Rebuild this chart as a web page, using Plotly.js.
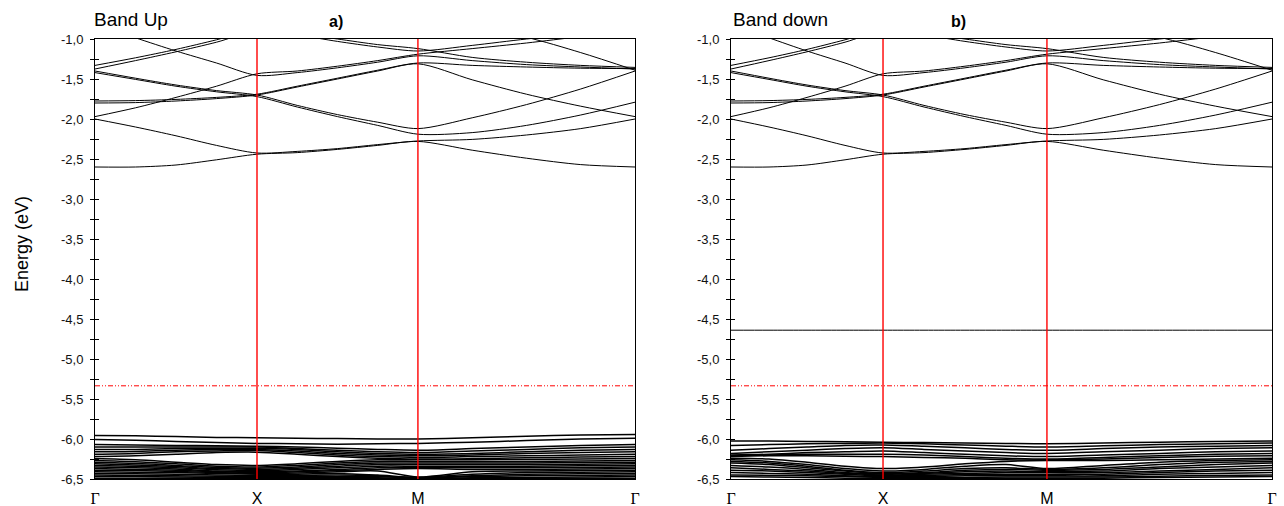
<!DOCTYPE html>
<html><head><meta charset="utf-8">
<script src="https://cdn.plot.ly/plotly-3.0.1.min.js"></script>
<style>html,body{margin:0;padding:0;background:#fff}#chart{width:1284px;height:506px}</style>
</head><body><div id="chart"></div>
<script>
// k sample points along the path in segment units (Γ=0, X=1, M=2, Γ=3)
const kSeg = [0,0.25,0.5,0.75,1,1.25,1.5,1.75,2,2.25,2.5,2.75,3];
const kLabels = ['Γ','X','M','Γ'];
// normalised positions of the high-symmetry points on each panel
const kPosA = [0, 0.300, 0.598, 1];
const kPosB = [0, 0.281, 0.584, 1];

// Upper (conduction) bands, eV – same in both panels
const up01 = [-2.60,-2.60,-2.575,-2.51,-2.44,-2.42,-2.38,-2.33,-2.28,-2.39,-2.49,-2.57,-2.60];
const up02 = [-2.00,-2.10,-2.21,-2.33,-2.425,-2.405,-2.37,-2.32,-2.275,-2.255,-2.20,-2.12,-2.00];
const up03 = [-1.97,-1.86,-1.73,-1.59,-1.435,-1.40,-1.34,-1.27,-1.19,-1.12,-1.05,-0.97,-0.90];
const up04 = [-1.80,-1.795,-1.775,-1.745,-1.70,-1.60,-1.50,-1.40,-1.31,-1.51,-1.69,-1.84,-1.97];
const up05 = [-1.775,-1.77,-1.755,-1.73,-1.69,-1.59,-1.49,-1.39,-1.30,-1.33,-1.35,-1.365,-1.37];
const up06 = [-1.40,-1.49,-1.575,-1.645,-1.70,-1.83,-1.945,-2.04,-2.12,-1.985,-1.82,-1.625,-1.40];
const up07 = [-1.42,-1.505,-1.59,-1.66,-1.72,-1.85,-1.97,-2.08,-2.19,-2.17,-2.08,-1.95,-1.79];
const up08 = [-1.33,-1.235,-1.13,-1.01,-0.88,-0.93,-1.00,-1.07,-1.12,-1.23,-1.29,-1.33,-1.355];
const up09 = [-1.375,-1.27,-1.16,-1.04,-0.90,-0.95,-1.03,-1.10,-1.15,-1.08,-1.00,-0.93,-0.86];
const up10 = [-0.81,-0.985,-1.15,-1.30,-1.455,-1.42,-1.36,-1.29,-1.21,-1.27,-1.32,-1.35,-1.375];
const up11 = [-0.60,-0.65,-0.70,-0.75,-0.78,-0.79,-0.80,-0.80,-0.80,-0.88,-0.98,-1.17,-1.39];

// Lower (valence) bands, panel a
const la01 = [-5.955,-5.96,-5.97,-5.98,-5.985,-5.99,-5.995,-6.00,-6.00,-5.985,-5.965,-5.95,-5.945];
const la02 = [-6.005,-6.015,-6.03,-6.045,-6.055,-6.06,-6.065,-6.06,-6.055,-6.04,-6.02,-6.00,-5.99];
const la03 = [-6.07,-6.075,-6.08,-6.085,-6.09,-6.10,-6.115,-6.13,-6.14,-6.12,-6.10,-6.08,-6.07];
const la04 = [-6.10,-6.10,-6.10,-6.10,-6.10,-6.12,-6.14,-6.16,-6.17,-6.15,-6.13,-6.11,-6.10];
const la05 = [-6.13,-6.13,-6.12,-6.12,-6.115,-6.13,-6.16,-6.18,-6.19,-6.18,-6.16,-6.14,-6.13];
const la06 = [-6.16,-6.155,-6.14,-6.13,-6.13,-6.15,-6.18,-6.20,-6.21,-6.20,-6.18,-6.17,-6.16];
const la07 = [-6.19,-6.18,-6.16,-6.15,-6.145,-6.17,-6.20,-6.22,-6.23,-6.22,-6.21,-6.20,-6.19];
const la08 = [-6.22,-6.21,-6.19,-6.17,-6.165,-6.19,-6.22,-6.24,-6.25,-6.245,-6.235,-6.225,-6.22];
const la09 = [-6.245,-6.26,-6.29,-6.32,-6.33,-6.31,-6.28,-6.26,-6.26,-6.26,-6.255,-6.25,-6.245];
const la10 = [-6.27,-6.285,-6.31,-6.34,-6.35,-6.33,-6.30,-6.28,-6.28,-6.28,-6.28,-6.275,-6.27];
const la11 = [-6.29,-6.305,-6.33,-6.355,-6.365,-6.35,-6.32,-6.30,-6.30,-6.30,-6.30,-6.295,-6.29];
const la12 = [-6.31,-6.325,-6.345,-6.37,-6.38,-6.365,-6.34,-6.32,-6.32,-6.32,-6.32,-6.315,-6.31];
const la13 = [-6.33,-6.34,-6.36,-6.385,-6.395,-6.38,-6.36,-6.34,-6.34,-6.34,-6.34,-6.335,-6.33];
const la14 = [-6.35,-6.36,-6.375,-6.40,-6.41,-6.40,-6.38,-6.36,-6.355,-6.36,-6.36,-6.355,-6.35];
const la15 = [-6.37,-6.38,-6.39,-6.41,-6.42,-6.41,-6.395,-6.38,-6.37,-6.38,-6.38,-6.375,-6.37];
const la16 = [-6.39,-6.395,-6.405,-6.42,-6.43,-6.425,-6.41,-6.40,-6.475,-6.41,-6.40,-6.395,-6.39];
const la17 = [-6.41,-6.415,-6.42,-6.43,-6.44,-6.44,-6.43,-6.45,-6.48,-6.44,-6.42,-6.415,-6.41];
const la18 = [-6.43,-6.435,-6.44,-6.45,-6.455,-6.455,-6.45,-6.46,-6.485,-6.46,-6.44,-6.435,-6.43];
const la19 = [-6.45,-6.455,-6.46,-6.465,-6.47,-6.47,-6.47,-6.47,-6.49,-6.47,-6.46,-6.455,-6.45];
const la20 = [-6.47,-6.47,-6.475,-6.48,-6.485,-6.485,-6.485,-6.485,-6.495,-6.485,-6.48,-6.475,-6.47];
const la21 = [-6.49,-6.49,-6.49,-6.495,-6.495,-6.495,-6.495,-6.495,-6.50,-6.495,-6.49,-6.49,-6.49];

// Lower bands, panel b
const lb01 = [-6.025,-6.025,-6.03,-6.035,-6.04,-6.045,-6.05,-6.055,-6.06,-6.05,-6.04,-6.03,-6.025];
const lb02 = [-6.08,-6.07,-6.06,-6.055,-6.05,-6.06,-6.075,-6.09,-6.10,-6.085,-6.07,-6.06,-6.05];
const lb03 = [-6.14,-6.12,-6.10,-6.08,-6.075,-6.09,-6.11,-6.13,-6.14,-6.12,-6.10,-6.09,-6.08];
const lb04 = [-6.18,-6.16,-6.14,-6.12,-6.11,-6.13,-6.15,-6.17,-6.18,-6.16,-6.14,-6.12,-6.11];
const lb05 = [-6.20,-6.19,-6.17,-6.16,-6.15,-6.17,-6.19,-6.21,-6.22,-6.20,-6.18,-6.16,-6.15];
const lb06 = [-6.21,-6.20,-6.19,-6.19,-6.19,-6.20,-6.22,-6.24,-6.25,-6.23,-6.21,-6.19,-6.18];
const lb07 = [-6.22,-6.21,-6.21,-6.215,-6.22,-6.23,-6.24,-6.26,-6.26,-6.25,-6.23,-6.215,-6.21];
const lb08 = [-6.24,-6.25,-6.29,-6.34,-6.37,-6.35,-6.31,-6.28,-6.27,-6.27,-6.26,-6.25,-6.24];
const lb09 = [-6.26,-6.28,-6.32,-6.37,-6.40,-6.38,-6.34,-6.32,-6.37,-6.33,-6.29,-6.27,-6.26];
const lb10 = [-6.28,-6.30,-6.34,-6.39,-6.42,-6.40,-6.37,-6.36,-6.38,-6.36,-6.32,-6.29,-6.28];
const lb11 = [-6.30,-6.32,-6.36,-6.40,-6.43,-6.42,-6.39,-6.38,-6.39,-6.38,-6.35,-6.32,-6.30];
const lb12 = [-6.33,-6.35,-6.38,-6.42,-6.44,-6.43,-6.41,-6.40,-6.41,-6.40,-6.37,-6.35,-6.33];
const lb13 = [-6.36,-6.38,-6.40,-6.43,-6.45,-6.44,-6.43,-6.42,-6.42,-6.42,-6.40,-6.38,-6.36];
const lb14 = [-6.39,-6.40,-6.42,-6.44,-6.46,-6.455,-6.445,-6.44,-6.44,-6.44,-6.42,-6.40,-6.39];
const lb15 = [-6.42,-6.43,-6.44,-6.46,-6.47,-6.47,-6.46,-6.46,-6.46,-6.46,-6.44,-6.43,-6.42];
const lb16 = [-6.45,-6.455,-6.46,-6.47,-6.48,-6.48,-6.48,-6.475,-6.475,-6.475,-6.465,-6.455,-6.45];
const lb17 = [-6.47,-6.475,-6.48,-6.49,-6.49,-6.49,-6.49,-6.49,-6.49,-6.49,-6.48,-6.475,-6.47];
const lbFlat = [-4.64,-4.64,-4.64,-4.64,-4.64,-4.64,-4.64,-4.64,-4.64,-4.64,-4.64,-4.64,-4.64];

const fermiLevel = -5.335;
const yTickVals = [-1.0,-1.5,-2.0,-2.5,-3.0,-3.5,-4.0,-4.5,-5.0,-5.5,-6.0,-6.5];
const yTickText = ['-1,0','-1,5','-2,0','-2,5','-3,0','-3,5','-4,0','-4,5','-5,0','-5,5','-6,0','-6,5'];
const yMinorVals = [-1.25,-1.75,-2.25,-2.75,-3.25,-3.75,-4.25,-4.75,-5.25,-5.75,-6.25];
const panelTitles = ['Band Up','Band down'];
const panelTags = ['a)','b)'];
const yTitle = 'Energy (eV)';

const upperBands = [up01,up02,up03,up04,up05,up06,up07,up08,up09,up10,up11];
const lowerA = [la01,la02,la03,la04,la05,la06,la07,la08,la09,la10,la11,la12,la13,la14,la15,la16,la17,la18,la19,la20,la21];
const lowerB = [lb01,lb02,lb03,lb04,lb05,lb06,lb07,lb08,lb09,lb10,lb11,lb12,lb13,lb14,lb15,lb16,lb17];

function mapK(k, pos){
  const i = Math.min(Math.floor(k), 2);
  const f = k - i;
  return pos[i] + f*(pos[i+1]-pos[i]);
}

const traces = [];
function addBands(list, pos, xa, ya, w){
  const xs = kSeg.map(k => mapK(k,pos));
  list.forEach(b => traces.push({
    x: xs, y: b, xaxis: xa, yaxis: ya, mode:'lines', hoverinfo:'skip',
    line:{color:'#000', width:w, shape:'spline', smoothing:0.8}, showlegend:false
  }));
}
addBands(upperBands, kPosA, 'x', 'y', 1);
addBands(lowerA, kPosA, 'x', 'y', 1.5);
addBands(upperBands, kPosB, 'x2', 'y2', 1);
addBands(lowerB, kPosB, 'x2', 'y2', 1.5);
addBands([lbFlat], kPosB, 'x2', 'y2', 1);
[['x','y'],['x2','y2']].forEach(([xa,ya]) => traces.push({
  x:[0,1], y:[fermiLevel,fermiLevel], xaxis:xa, yaxis:ya, mode:'lines', hoverinfo:'skip',
  line:{color:'#ff0000', width:1, dash:'5px,2px,1px,2px,1px,2px'}, showlegend:false
}));
// empty traces so the inner-tick overlay axes exist
traces.push({x:[], y:[], xaxis:'x', yaxis:'y3', showlegend:false});
traces.push({x:[], y:[], xaxis:'x2', yaxis:'y4', showlegend:false});

const shapes = [];
[[kPosA,'x','y'],[kPosB,'x2','y2']].forEach(([pos,xa,ya]) => {
  [pos[1],pos[2]].forEach(p => shapes.push({
    type:'line', xref:xa, yref:ya+' domain', x0:p, x1:p, y0:0, y1:1,
    line:{color:'#ff0000', width:1.4}
  }));
});

const W = 1284, H = 506;
const domA = [95/W, 635/W], domB = [731/W, 1272/W];
const domY = [(H-479)/H, (H-39)/H];
const font = {family:'Liberation Sans, Arial, sans-serif', color:'#000'};
const allTicks = yTickVals.concat(yMinorVals);

function xaxisDef(pos, dom){
  return {
    domain: dom, range:[0,1], showgrid:false, zeroline:false,
    showline:true, mirror:true, linecolor:'#000', linewidth:1,
    tickmode:'array', tickvals: pos,
    ticktext: kLabels.map(t => t==='Γ' ? '<span style="font-family:Liberation Serif">Γ</span>' : t),
    ticks:'', ticklabelstandoff:5,
    tickfont:{family:font.family, size:16, color:'#000'}
  };
}
function yaxisDef(dom, anchor){
  return {
    domain: dom, anchor: anchor, range:[-6.5,-1.0], showgrid:false, zeroline:false,
    showline:true, mirror:true, linecolor:'#000', linewidth:1,
    tickmode:'array', tickvals:yTickVals, ticktext:yTickText,
    ticks:'outside', ticklen:4, tickcolor:'#000', ticklabelstandoff:4,
    minor:{tickmode:'array', tickvals:yMinorVals, ticks:'outside', ticklen:4, tickcolor:'#000'},
    tickfont:{family:font.family, size:13, color:'#111'}
  };
}
function innerTicks(over, anchor){
  return {
    overlaying: over, anchor: anchor, side:'left', range:[-6.5,-1.0],
    showgrid:false, zeroline:false, showline:false, showticklabels:false,
    tickmode:'array', tickvals: allTicks, ticks:'inside', ticklen:4, tickcolor:'#000'
  };
}

const layout = {
  width:W, height:H, margin:{l:0,r:0,t:0,b:0},
  paper_bgcolor:'#fff', plot_bgcolor:'#fff', font: font,
  xaxis: Object.assign(xaxisDef(kPosA, domA), {anchor:'y'}),
  yaxis: yaxisDef(domY, 'x'),
  xaxis2: Object.assign(xaxisDef(kPosB, domB), {anchor:'y2'}),
  yaxis2: yaxisDef(domY, 'x2'),
  yaxis3: innerTicks('y', 'x'),
  yaxis4: innerTicks('y2', 'x2'),
  shapes: shapes,
  annotations: [
    {text: panelTitles[0], xref:'paper', yref:'paper', x:92/W, y:1-20/H, xanchor:'left', yanchor:'middle', showarrow:false, font:{family:font.family,size:19,color:'#000'}},
    {text: '<b>'+panelTags[0]+'</b>', xref:'paper', yref:'paper', x:336/W, y:1-22/H, xanchor:'center', yanchor:'middle', showarrow:false, font:{family:font.family,size:16,color:'#000'}},
    {text: panelTitles[1], xref:'paper', yref:'paper', x:731/W, y:1-20/H, xanchor:'left', yanchor:'middle', showarrow:false, font:{family:font.family,size:19,color:'#000'}},
    {text: '<b>'+panelTags[1]+'</b>', xref:'paper', yref:'paper', x:958/W, y:1-22/H, xanchor:'center', yanchor:'middle', showarrow:false, font:{family:font.family,size:16,color:'#000'}},
    {text: yTitle, xref:'paper', yref:'paper', x:22/W, y:1-244/H, xanchor:'center', yanchor:'middle', textangle:-90, showarrow:false, font:{family:font.family,size:18,color:'#000'}}
  ]
};

Plotly.newPlot('chart', traces, layout, {staticPlot:true, displayModeBar:false});
</script>
</body></html>
